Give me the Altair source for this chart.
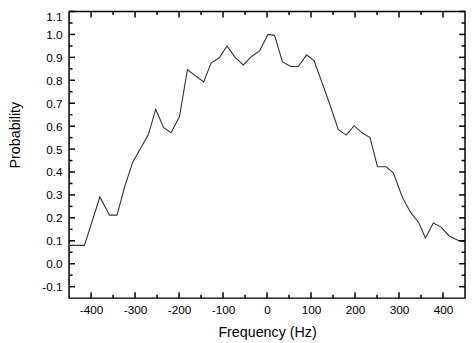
import altair as alt
import pandas as pd

# ---- data ----
freq = [-450, -415, -380, -358, -341, -323, -305, -287, -270, -253, -235, -218,
        -199, -181, -144, -127, -109, -91, -72, -54, -35, -17, 2, 17, 35, 54,
        71, 90, 107, 123, 142, 162, 180, 198, 216, 234, 251, 271, 287, 308,
        326, 345, 360, 378, 395, 414, 436, 450]
prob = [0.080, 0.080, 0.291, 0.212, 0.212, 0.340, 0.444, 0.505, 0.562, 0.673,
        0.593, 0.571, 0.642, 0.846, 0.793, 0.876, 0.897, 0.950, 0.899, 0.867,
        0.904, 0.928, 1.000, 0.996, 0.880, 0.860, 0.860, 0.911, 0.885, 0.800,
        0.699, 0.585, 0.561, 0.602, 0.571, 0.550, 0.423, 0.423, 0.396, 0.288,
        0.225, 0.179, 0.112, 0.178, 0.161, 0.121, 0.100, 0.095]

x_major = [-400, -300, -200, -100, 0, 100, 200, 300, 400]
x_minor = [-350, -250, -150, -50, 50, 150, 250, 350]
y_major = [-0.1, 0.0, 0.1, 0.2, 0.3, 0.4, 0.5, 0.6, 0.7, 0.8, 0.9, 1.0, 1.1]
y_minor = [-0.05, 0.05, 0.15, 0.25, 0.35, 0.45, 0.55, 0.65, 0.75, 0.85, 0.95, 1.05]

X_DOM = [-450, 450]
Y_DOM = [-0.15, 1.1]

# ---- layout ----
W, H = 402, 291
FONT = "Liberation Sans"
px_x = W / (X_DOM[1] - X_DOM[0])
px_y = H / (Y_DOM[1] - Y_DOM[0])
MAJ, MIN = 6.0, 3.5

# inward ticks on all four sides, expressed in data units
rows = []
for vals, L in ((x_major, MAJ), (x_minor, MIN)):
    for v in vals:
        rows.append(dict(x=v, x2=v, y=Y_DOM[0], y2=Y_DOM[0] + L / px_y))
        rows.append(dict(x=v, x2=v, y=Y_DOM[1], y2=Y_DOM[1] - L / px_y))
for vals, L in ((y_major, MAJ), (y_minor, MIN)):
    for v in vals:
        rows.append(dict(x=X_DOM[0], x2=X_DOM[0] + L / px_x, y=v, y2=v))
        rows.append(dict(x=X_DOM[1], x2=X_DOM[1] - L / px_x, y=v, y2=v))
ticks_df = pd.DataFrame(rows)

line_df = pd.DataFrame({"f": freq, "p": prob})

xs = alt.Scale(domain=X_DOM, nice=False, zero=False)
ys = alt.Scale(domain=Y_DOM, nice=False, zero=False)

x_axis = alt.Axis(values=x_major, title="Frequency (Hz)",
                  labelExpr="'' + datum.value",
                  labelPadding=7, titleY=28, titleBaseline="top")
y_axis = alt.Axis(values=y_major, title="Probability",
                  labelExpr="datum.value < 0 ? '-' + format(-datum.value, '.1f') : format(datum.value, '.1f')",
                  labelPadding=7, labelFlush=True, titleX=-47, titleY=125,
                  titleBaseline="bottom")

line = alt.Chart(line_df).mark_line(color="#333333", strokeWidth=1.1).encode(
    x=alt.X("f:Q", scale=xs, axis=x_axis, title="Frequency (Hz)"),
    y=alt.Y("p:Q", scale=ys, axis=y_axis, title="Probability"),
)

tick_layer = alt.Chart(ticks_df).mark_rule(color="black", strokeWidth=1.5).encode(
    x=alt.X("x:Q", scale=xs, axis=x_axis, title="Frequency (Hz)"),
    x2="x2:Q",
    y=alt.Y("y:Q", scale=ys, axis=y_axis, title="Probability"),
    y2="y2:Q",
)

chart = alt.layer(line, tick_layer).properties(
    width=W, height=H,
    autosize=alt.AutoSizeParams(type="none"),
    padding={"left": 62, "top": 1, "right": 1, "bottom": 43},
).configure_view(
    stroke="black", strokeWidth=1.5
).configure_axis(
    domain=False, ticks=False, grid=False,
    labelFont=FONT, labelFontSize=12, labelColor="black",
    titleFont=FONT, titleFontSize=14.5, titleColor="black",
    titleFontWeight="normal",
)

chart.save("out.html", embed_options={"renderer": "svg", "actions": False})
